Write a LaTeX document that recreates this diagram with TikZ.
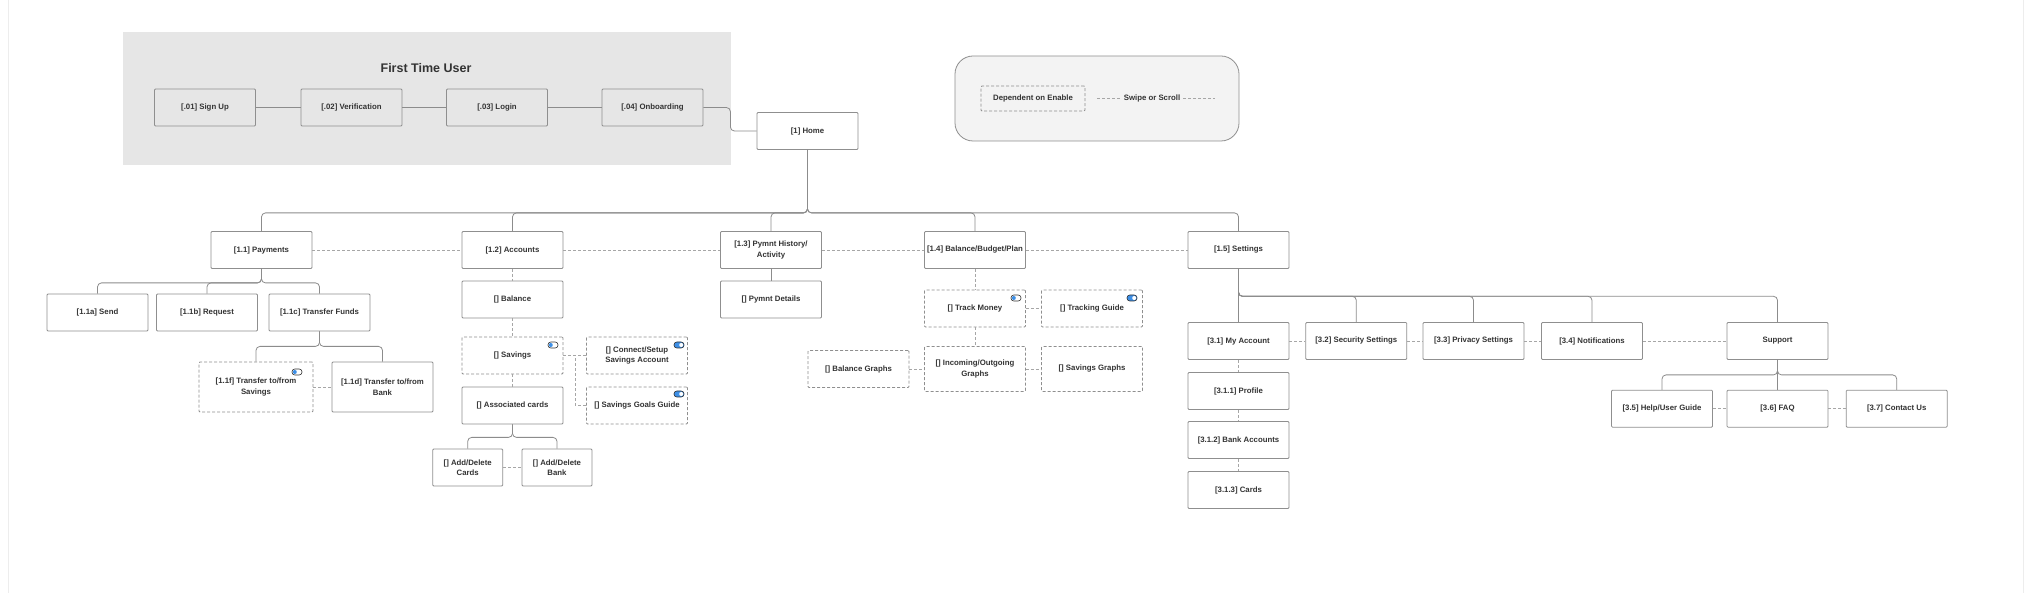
\documentclass[tikz,border=0pt]{standalone}
\usepackage{fontspec}
\setmainfont{Liberation Sans}
\usepackage{xcolor}

\definecolor{boxline}{HTML}{8F8F8F}
\definecolor{treeline}{HTML}{8C8C8C}
\definecolor{dashline}{HTML}{A6A6A6}
\definecolor{labeltext}{HTML}{333333}
\definecolor{ftubg}{HTML}{E6E6E6}
\definecolor{legendbg}{HTML}{F3F3F3}
\definecolor{toggleblue}{HTML}{3D8FE6}

\begin{document}
\begin{tikzpicture}[x=1pt,y=-1pt,
  box/.style={draw=boxline, fill=white, line width=0.8pt, rounded corners=1pt,
    minimum width=101pt, minimum height=37pt, inner sep=1pt, align=center,
    text=labeltext, font=\fontsize{7.8}{10.5}\selectfont\bfseries},
  dbox/.style={box, dash pattern=on 3pt off 2pt},
  ftubox/.style={box, fill=ftubg},
  tree/.style={draw=treeline, line width=0.8pt, rounded corners=4pt},
  link/.style={draw=dashline, line width=0.8pt, dash pattern=on 3pt off 2pt},
  pill/.style={draw=black!80, line width=0.6pt, rounded corners=2.8pt},
  knob/.style={circle, inner sep=0pt, minimum size=4pt}]
\useasboundingbox (0,0) rectangle (2030,593);
\fill[white] (0,0) rectangle (2030,593);
\draw[black!7] (8,0) -- (8,593);
\draw[black!7] (2023,0) -- (2023,593);

%Shape: First time user area
\fill[ftubg] (123,32) rectangle (731,165);
\node (title) at (426,68) [text=labeltext, font=\fontsize{12.5}{14}\selectfont\bfseries] {First Time User};
\node (signup) at (205,107.5) [ftubox] {[.01] Sign Up};
\node (verif) at (351.5,107.5) [ftubox] {[.02] Verification};
\node (login) at (497,107.5) [ftubox] {[.03] Login};
\node (onboard) at (652.5,107.5) [ftubox] {[.04] Onboarding};
\draw[tree] (signup) -- (verif);
\draw[tree] (verif) -- (login);
\draw[tree] (login) -- (onboard);

% Home
\node (home) at (807.5,131) [box] {[1] Home};
\draw[tree] (onboard.east) -- ++(27,0) |- (home.west);

%Shape: Legend
\draw[draw=boxline, fill=legendbg, line width=0.8pt, rounded corners=18pt] (955,56) rectangle (1239,141);
\node (depend) at (1033,98.5) [dbox, minimum width=104pt, minimum height=25pt, fill=none] {Dependent on Enable};
\node (swipe) at (1152,98.5) [text=labeltext, font=\fontsize{7.8}{10.5}\selectfont\bfseries, inner sep=3pt] {Swipe or Scroll};
\coordinate (swipeL) at (1097,98.5);
\coordinate (swipeR) at (1215,98.5);
\draw[link] (swipeL) -- (swipe.west);
\draw[link] (swipe.east) -- (swipeR);

% Main sections
\node (pay) at (261.5,250) [box] {[1.1] Payments};
\node (acc) at (512.5,250) [box] {[1.2] Accounts};
\node (hist) at (771,250) [box] {[1.3] Pymnt History/\\Activity};
\node (budget) at (975,250) [box] {[1.4] Balance/Budget/Plan};
\node (settings) at (1238.5,250) [box] {[1.5] Settings};
\foreach \sec in {pay,acc,hist,budget,settings}
  \draw[tree] (home.south) -- ++(0,63) -| (\sec.north);
\draw[link] (pay) -- (acc);
\draw[link] (acc) -- (hist);
\draw[link] (hist) -- (budget);
\draw[link] (budget) -- (settings);

% Payments
\node (send) at (97.5,312.5) [box] {[1.1a] Send};
\node (request) at (207,312.5) [box] {[1.1b] Request};
\node (transfer) at (319.5,312.5) [box] {[1.1c] Transfer Funds};
\foreach \sub in {send,request,transfer}
  \draw[tree] (pay.south) -- ++(0,14) -| (\sub.north);
\node (tosavings) at (256,387) [dbox, minimum width=114pt, minimum height=50pt] {[1.1f] Transfer to/from\\Savings};
\node (tobank) at (382.5,387) [box, minimum height=50pt] {[1.1d] Transfer to/from\\Bank};
\foreach \sub in {tosavings,tobank}
  \draw[tree] (transfer.south) -- ++(0,15) -| (\sub.north);
\draw[link] (tosavings) -- (tobank);

% Accounts
\node (balance) at (512.5,299.5) [box] {[] Balance};
\node (savings) at (512.5,355.5) [dbox] {[] Savings};
\node (cards) at (512.5,405.5) [box] {[] Associated cards};
\node (connect) at (637,355.5) [dbox] {[] Connect/Setup\\Savings Account};
\node (goals) at (637,405.5) [dbox] {[] Savings Goals Guide};
\node (addcards) at (467.7,467.5) [box, minimum width=70pt] {[] Add/Delete\\Cards};
\node (addbank) at (557,467.5) [box, minimum width=70pt] {[] Add/Delete\\Bank};
\draw[link] (acc) -- (balance);
\draw[link] (balance) -- (savings);
\draw[link] (savings) -- (cards);
\draw[link] (savings) -- (connect);
\draw[link] (savings.east) -- ++(12,0) |- (goals.west);
\foreach \sub in {addcards,addbank}
  \draw[tree] (cards.south) -- ++(0,13) -| (\sub.north);
\draw[link] (addcards) -- (addbank);

% Payment history
\node (details) at (771,299.5) [box] {[] Pymnt Details};
\draw[tree] (hist) -- (details);

% Balance/Budget/Plan
\node (track) at (975,308.5) [dbox] {[] Track Money};
\node (trackguide) at (1092,308.5) [dbox] {[] Tracking Guide};
\node (inout) at (975,369) [dbox, minimum height=45pt] {[] Incoming/Outgoing\\Graphs};
\node (balgraphs) at (858.5,369) [dbox] {[] Balance Graphs};
\node (savgraphs) at (1092,369) [dbox, minimum height=45pt] {[] Savings Graphs};
\draw[link] (budget) -- (track);
\draw[link] (track) -- (trackguide);
\draw[link] (track) -- (inout);
\draw[link] (balgraphs) -- (inout);
\draw[link] (inout) -- (savgraphs);

% Settings
\node (myacc) at (1238.5,341) [box] {[3.1] My Account};
\node (security) at (1356.3,341) [box] {[3.2] Security Settings};
\node (privacy) at (1473.5,341) [box] {[3.3] Privacy Settings};
\node (notif) at (1592,341) [box] {[3.4] Notifications};
\node (support) at (1777.5,341) [box] {Support};
\draw[tree] (settings) -- (myacc);
\foreach \sub in {security,privacy,notif,support}
  \draw[tree] (settings.south) -- ++(0,27.4) -| (\sub.north);
\draw[link] (myacc) -- (security);
\draw[link] (security) -- (privacy);
\draw[link] (privacy) -- (notif);
\draw[link] (notif) -- (support);
\node (profile) at (1238.5,391) [box] {[3.1.1] Profile};
\node (bankacc) at (1238.5,440) [box] {[3.1.2] Bank Accounts};
\node (mycards) at (1238.5,490) [box] {[3.1.3] Cards};
\draw[link] (myacc) -- (profile);
\draw[link] (profile) -- (bankacc);
\draw[link] (bankacc) -- (mycards);

% Support
\node (help) at (1662,408.7) [box] {[3.5] Help/User Guide};
\node (faq) at (1777.5,408.7) [box] {[3.6] FAQ};
\node (contact) at (1896.7,408.7) [box] {[3.7] Contact Us};
\draw[tree] (support) -- (faq);
\foreach \sub in {help,contact}
  \draw[tree] (support.south) -- ++(0,15) -| (\sub.north);
\draw[link] (help) -- (faq);
\draw[link] (faq) -- (contact);

%Shape: Toggles (off)
\foreach \tx/\ty in {297/372, 553/345, 1016/298} {
  \draw[pill, fill=white] (\tx-5,\ty-3) rectangle (\tx+5,\ty+3);
  \node[knob, fill=toggleblue] at (\tx-2.2,\ty) {};
}
%Shape: Toggles (on)
\foreach \tx/\ty in {679/345, 679/394, 1132/298} {
  \draw[pill, fill=toggleblue] (\tx-5,\ty-3) rectangle (\tx+5,\ty+3);
  \node[knob, fill=white] at (\tx+2.2,\ty) {};
}

\end{tikzpicture}
\end{document}
